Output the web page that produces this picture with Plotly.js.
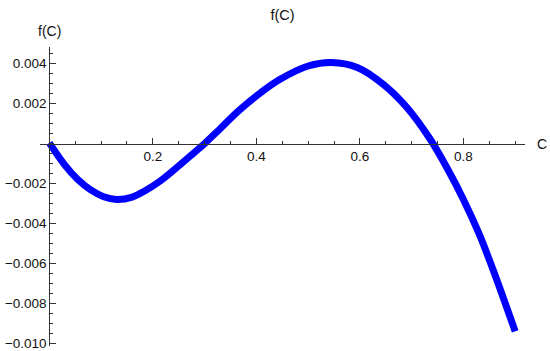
<!DOCTYPE html>
<html>
<head>
<meta charset="utf-8">
<script src="https://cdn.plot.ly/plotly-3.0.1.min.js"></script>
<style>html,body{margin:0;padding:0;background:#fff;}#chart{width:550px;height:351px;}</style>
</head>
<body>
<div id="chart"></div>
<script>
// Values
const cValues = [0, 0.03, 0.055, 0.08, 0.105, 0.13, 0.16, 0.185, 0.215, 0.25, 0.28, 0.3, 0.33, 0.365, 0.4, 0.445, 0.5, 0.545, 0.595, 0.645, 0.69, 0.735, 0.77, 0.8, 0.83, 0.86, 0.9];
const fValues = [0.00003, -0.00108, -0.0018, -0.00232, -0.00266, -0.0028, -0.00268, -0.00236, -0.00186, -0.00112, -0.00045, 0.0000, 0.00074, 0.00162, 0.00238, 0.0032, 0.00388, 0.00406, 0.00381, 0.00297, 0.00183, 0.00025, -0.0013, -0.0028, -0.0045, -0.0065, -0.0094];

const xTickVals = [0.2, 0.4, 0.6, 0.8];
const xTickText = ["0.2", "0.4", "0.6", "0.8"];
const yTickVals = [0.004, 0.002, -0.002, -0.004, -0.006, -0.008, -0.010];
const yTickText = ["0.004", "0.002", "\u22120.002", "\u22120.004", "\u22120.006", "\u22120.008", "\u22120.010"];

const xRange = [-0.018, 0.919];
const yRange = [-0.01013, 0.00483];

const fam = "Liberation Sans, Arial, sans-serif";
const tickFont = {family: fam, size: 13.5, color: "#111"};
const labelFont = {family: fam, size: 14, color: "#111"};
const axisColor = "#333";

const trace = {
  x: cValues, y: fValues, type: "scatter", mode: "lines",
  line: {color: "#0000ff", width: 7, shape: "spline", smoothing: 1},
  hoverinfo: "skip"
};

const layout = {
  width: 550, height: 351,
  margin: {l: 40, r: 25, t: 47, b: 5},
  paper_bgcolor: "#fff", plot_bgcolor: "#fff",
  showlegend: false,
  font: tickFont,
  title: {text: "f(C)", x: 0.5, xref: "paper", xanchor: "center", y: 0.957, yref: "container", yanchor: "middle", font: {family: fam, size: 14.5, color: "#111"}},
  xaxis: {
    range: xRange, showgrid: false, zeroline: false,
    showline: true, linecolor: axisColor, linewidth: 1,
    anchor: "free", position: (0 - yRange[0]) / (yRange[1] - yRange[0]),
    tickmode: "array", tickvals: xTickVals, ticktext: xTickText,
    ticks: "inside", ticklen: 6, tickcolor: axisColor, tickwidth: 1,
    minor: {tickmode: "linear", tick0: 0, dtick: 0.05, ticks: "inside", ticklen: 3, tickcolor: axisColor, tickwidth: 1, showgrid: false},
    tickfont: tickFont, ticklabeloverflow: "allow"
  },
  yaxis: {
    range: yRange, showgrid: false, zeroline: false,
    showline: true, linecolor: axisColor, linewidth: 1,
    anchor: "free", position: (0 - xRange[0]) / (xRange[1] - xRange[0]),
    tickmode: "array", tickvals: yTickVals, ticktext: yTickText,
    ticks: "inside", ticklen: 6, tickcolor: axisColor, tickwidth: 1,
    minor: {tickmode: "linear", tick0: 0, dtick: 0.0005, ticks: "inside", ticklen: 3, tickcolor: axisColor, tickwidth: 1, showgrid: false},
    tickfont: tickFont, ticklabeloverflow: "allow"
  },
  annotations: [
    {text: "f(C)", xref: "x", yref: "paper", x: 0, y: 1, yshift: 16, showarrow: false, xanchor: "center", yanchor: "middle", font: labelFont},
    {text: "C", xref: "paper", yref: "y", x: 1, y: 0, xshift: 17, showarrow: false, xanchor: "center", yanchor: "middle", font: labelFont}
  ]
};

Plotly.newPlot("chart", [trace], layout, {displayModeBar: false, staticPlot: true});
</script>
</body>
</html>
